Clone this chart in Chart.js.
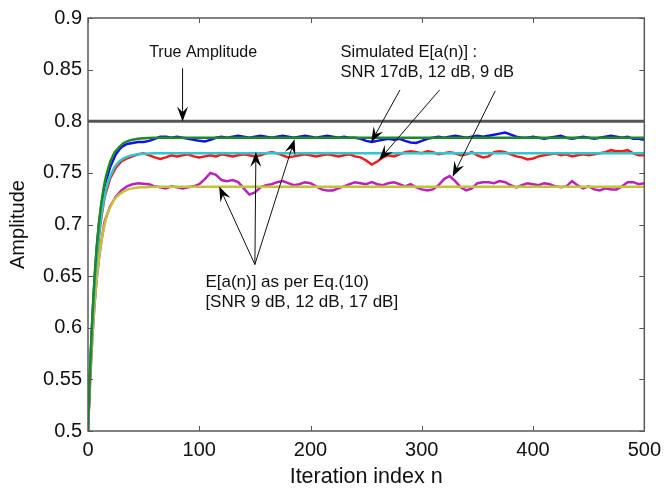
<!DOCTYPE html>
<html>
<head>
<meta charset="utf-8">
<script src="https://cdn.jsdelivr.net/npm/chart.js@4.4.1/dist/chart.umd.min.js"></script>
<style>
  html, body { margin: 0; padding: 0; background: #fff; }
  #wrap { width: 668px; height: 488px; }
</style>
</head>
<body>
<div id="wrap"><canvas id="ampChart" width="668" height="488"></canvas></div>
<script>
// iteration index for the theoretical curves
const theoryN = [0, 1, 2, 3, 4, 5, 6, 7, 8, 10, 12, 14, 16, 18, 20, 24, 28, 32, 36, 40, 45, 50, 60, 100, 200, 300, 400, 500];
// E[a(n)] as per Eq.(10)
const theory17 = [0.500, 0.533, 0.563, 0.589, 0.612, 0.632, 0.650, 0.666, 0.680, 0.703, 0.721, 0.735, 0.746, 0.754, 0.761, 0.770, 0.775, 0.779, 0.781, 0.782, 0.783, 0.7835, 0.784, 0.784, 0.784, 0.784, 0.784, 0.784];
const theory12 = [0.500, 0.531, 0.559, 0.584, 0.606, 0.625, 0.642, 0.657, 0.670, 0.692, 0.709, 0.722, 0.733, 0.741, 0.747, 0.756, 0.761, 0.764, 0.766, 0.767, 0.768, 0.7685, 0.769, 0.769, 0.769, 0.769, 0.769, 0.769];
const theory9 = [0.500, 0.528, 0.552, 0.574, 0.593, 0.610, 0.625, 0.638, 0.649, 0.669, 0.684, 0.695, 0.705, 0.712, 0.717, 0.725, 0.729, 0.732, 0.734, 0.735, 0.7358, 0.736, 0.7365, 0.7365, 0.7365, 0.7365, 0.7365, 0.7365];

// iteration index for the simulated curves
const simN = [0, 2, 4, 6, 8, 10, 12, 15,
  20, 25, 30, 35, 40, 45, 50, 55, 60, 65,
  70, 75, 80, 85, 90, 95, 100, 105, 110, 115,
  120, 125, 130, 135, 140, 145, 150, 155, 160, 165,
  170, 175, 180, 185, 190, 195, 200, 205, 210, 215,
  220, 225, 230, 235, 240, 245, 250, 255, 260, 265,
  270, 275, 280, 285, 290, 295, 300, 305, 310, 315,
  320, 325, 330, 335, 340, 345, 350, 355, 360, 365,
  370, 375, 380, 385, 390, 395, 400, 405, 410, 415,
  420, 425, 430, 435, 440, 445, 450, 455, 460, 465,
  470, 475, 480, 485, 490, 495, 500];
// Simulated E[a(n)]
const sim17 = [0.500, 0.562, 0.611, 0.649, 0.679, 0.702, 0.719, 0.738,
  0.756, 0.768, 0.775, 0.778, 0.779, 0.780, 0.780, 0.781, 0.783, 0.785,
  0.785, 0.784, 0.785, 0.784, 0.783, 0.782, 0.781, 0.7805, 0.782, 0.784,
  0.785, 0.784, 0.785, 0.786, 0.785, 0.784, 0.785, 0.786, 0.785, 0.784,
  0.785, 0.786, 0.785, 0.784, 0.785, 0.786, 0.785, 0.784, 0.785, 0.786,
  0.785, 0.784, 0.785, 0.784, 0.784, 0.783, 0.781, 0.780, 0.781, 0.782,
  0.783, 0.782, 0.783, 0.781, 0.7795, 0.779, 0.781, 0.783, 0.784, 0.785,
  0.784, 0.785, 0.786, 0.785, 0.784, 0.785, 0.786, 0.785, 0.786, 0.787,
  0.788, 0.789, 0.787, 0.785, 0.784, 0.784, 0.785, 0.784, 0.783, 0.784,
  0.785, 0.786, 0.784, 0.783, 0.784, 0.785, 0.784, 0.783, 0.784, 0.785,
  0.786, 0.785, 0.784, 0.785, 0.783, 0.783, 0.782];
const sim12 = [0.500, 0.558, 0.605, 0.641, 0.669, 0.690, 0.707, 0.727,
  0.745, 0.755, 0.761, 0.764, 0.766, 0.768, 0.769, 0.767, 0.765, 0.7635,
  0.765, 0.767, 0.766, 0.767, 0.768, 0.766, 0.765, 0.766, 0.767, 0.766,
  0.768, 0.767, 0.766, 0.767, 0.768, 0.767, 0.766, 0.767, 0.769, 0.770,
  0.769, 0.767, 0.765, 0.766, 0.767, 0.768, 0.767, 0.766, 0.767, 0.768,
  0.767, 0.766, 0.767, 0.768, 0.766, 0.765, 0.762, 0.758, 0.761, 0.765,
  0.767, 0.766, 0.768, 0.770, 0.771, 0.770, 0.769, 0.771, 0.770, 0.768,
  0.769, 0.770, 0.769, 0.767, 0.768, 0.770, 0.767, 0.765, 0.766, 0.770,
  0.771, 0.770, 0.768, 0.766, 0.765, 0.763, 0.764, 0.766, 0.767, 0.768,
  0.769, 0.767, 0.768, 0.766, 0.767, 0.768, 0.767, 0.768, 0.769, 0.770,
  0.772, 0.771, 0.771, 0.772, 0.769, 0.767, 0.767];
const sim9 = [0.500, 0.551, 0.592, 0.624, 0.649, 0.668, 0.684, 0.703,
  0.718, 0.727, 0.733, 0.737, 0.739, 0.740, 0.7395, 0.739, 0.737, 0.736,
  0.735, 0.737, 0.736, 0.735, 0.736, 0.737, 0.739, 0.744, 0.750, 0.748,
  0.743, 0.742, 0.743, 0.741, 0.735, 0.729, 0.731, 0.736, 0.738, 0.739,
  0.741, 0.742, 0.740, 0.738, 0.739, 0.741, 0.740, 0.737, 0.734, 0.733,
  0.733, 0.735, 0.737, 0.739, 0.741, 0.740, 0.739, 0.741, 0.739, 0.738,
  0.740, 0.741, 0.739, 0.737, 0.739, 0.736, 0.734, 0.733, 0.734, 0.738,
  0.744, 0.747, 0.742, 0.736, 0.733, 0.735, 0.740, 0.741, 0.741, 0.740,
  0.742, 0.741, 0.738, 0.736, 0.738, 0.740, 0.739, 0.738, 0.740, 0.739,
  0.737, 0.736, 0.737, 0.742, 0.738, 0.735, 0.737, 0.734, 0.733, 0.735,
  0.734, 0.734, 0.737, 0.741, 0.741, 0.739, 0.740];

// true amplitude
const trueN = [0, 500];
const trueAmp = [0.8, 0.8];

const xTicks = [0, 100, 200, 300, 400, 500];
const yTicks = [0.5, 0.55, 0.6, 0.65, 0.7, 0.75, 0.8, 0.85, 0.9];

function pts(xs, ys) {
  return xs.map((x, i) => ({ x: x, y: ys[i] }));
}

function lineSet(label, xs, ys, color, width) {
  return {
    label: label,
    data: pts(xs, ys),
    borderColor: color,
    borderWidth: width,
    pointRadius: 0,
    tension: 0,
    showLine: true,
    fill: false
  };
}

// annotations (in data units)
const notes = [
  { lines: ["True Amplitude"], x: 55, y: 0.8666, size: 16 },
  { lines: ["Simulated E[a(n)] :", "SNR 17dB, 12 dB, 9 dB"], x: 227, y: 0.8666, size: 16.5 },
  { lines: ["E[a(n)] as per Eq.(10)", "[SNR 9 dB, 12 dB, 17 dB]"], x: 105.5, y: 0.6442, size: 17 }
];
const arrows = [
  [85, 0.8513, 85, 0.7998],
  [280.4, 0.8303, 254.5, 0.7797],
  [316, 0.8303, 261.6, 0.7625],
  [366, 0.8294, 327.7, 0.7463],
  [150, 0.6613, 117.9, 0.7368],
  [150, 0.6613, 150.9, 0.7702],
  [150, 0.6613, 185.7, 0.7826]
];

const framePlugin = {
  id: "frame",
  afterDatasetsDraw(chart) {
    const { ctx, chartArea: a, scales } = chart;
    ctx.save();
    // inward ticks
    ctx.strokeStyle = "#555";
    ctx.lineWidth = 1;
    xTicks.forEach(v => {
      const px = Math.round(scales.x.getPixelForValue(v)) + 0.5;
      ctx.beginPath();
      ctx.moveTo(px, a.bottom); ctx.lineTo(px, a.bottom - 5);
      ctx.moveTo(px, a.top); ctx.lineTo(px, a.top + 5);
      ctx.stroke();
    });
    yTicks.forEach(v => {
      const py = Math.round(scales.y.getPixelForValue(v)) + 0.5;
      ctx.beginPath();
      ctx.moveTo(a.left, py); ctx.lineTo(a.left + 5, py);
      ctx.moveTo(a.right, py); ctx.lineTo(a.right - 5, py);
      ctx.stroke();
    });
    // box
    ctx.strokeStyle = "#5a5a5a";
    ctx.lineWidth = 1.5;
    ctx.strokeRect(a.left, a.top, a.right - a.left, a.bottom - a.top);

    // annotation text
    ctx.fillStyle = "#111";
    ctx.textBaseline = "middle";
    ctx.textAlign = "left";
    notes.forEach(n => {
      ctx.font = n.size + "px 'Liberation Sans', Arial, sans-serif";
      const x0 = scales.x.getPixelForValue(n.x);
      const y0 = scales.y.getPixelForValue(n.y);
      n.lines.forEach((t, i) => ctx.fillText(t, x0, y0 + i * 20));
    });

    // arrows
    arrows.forEach(([x1, y1, x2, y2]) => {
      const ax = scales.x.getPixelForValue(x1), ay = scales.y.getPixelForValue(y1);
      const bx = scales.x.getPixelForValue(x2), by = scales.y.getPixelForValue(y2);
      const ang = Math.atan2(by - ay, bx - ax);
      const len = 15, half = 5.5;
      ctx.strokeStyle = "#111";
      ctx.lineWidth = 1;
      ctx.beginPath();
      ctx.moveTo(ax, ay);
      ctx.lineTo(bx - Math.cos(ang) * len * 0.6, by - Math.sin(ang) * len * 0.6);
      ctx.stroke();
      ctx.save();
      ctx.translate(bx, by);
      ctx.rotate(ang);
      ctx.fillStyle = "#000";
      ctx.beginPath();
      ctx.moveTo(0, 0);
      ctx.lineTo(-len, -half);
      ctx.lineTo(-len * 0.62, 0);
      ctx.lineTo(-len, half);
      ctx.closePath();
      ctx.fill();
      ctx.restore();
    });
    ctx.restore();
  }
};

const ctx = document.getElementById("ampChart").getContext("2d");

// first dataset is drawn on top
new Chart(ctx, {
  type: "scatter",
  data: {
    datasets: [
      lineSet("True Amplitude", trueN, trueAmp, "#555555", 3),
      lineSet("Eq.(10) 17 dB", theoryN, theory17, "#1f8a24", 2.5),
      lineSet("Eq.(10) 12 dB", theoryN, theory12, "#2ec8cc", 2.5),
      lineSet("Eq.(10) 9 dB", theoryN, theory9, "#c4c236", 2.5),
      lineSet("Sim 17 dB", simN, sim17, "#1010ee", 2.5),
      lineSet("Sim 12 dB", simN, sim12, "#ee1c1c", 2.5),
      lineSet("Sim 9 dB", simN, sim9, "#bb22bb", 2.5)
    ]
  },
  options: {
    responsive: false,
    animation: false,
    devicePixelRatio: 1,
    layout: { padding: { left: 0, top: 12, right: 20, bottom: 0 } },
    plugins: {
      legend: { display: false },
      tooltip: { enabled: false }
    },
    scales: {
      x: {
        type: "linear",
        min: 0,
        max: 500,
        afterFit: s => { s.height = 57; },
        afterBuildTicks: s => { s.ticks = xTicks.map(v => ({ value: v })); },
        grid: { display: false, drawTicks: false },
        border: { display: false },
        ticks: {
          font: { size: 20, family: "'Liberation Sans', Arial, sans-serif" },
          color: "#111",
          padding: 7,
          maxRotation: 0
        },
        title: {
          display: true,
          text: "Iteration index n",
          font: { size: 21.5, lineHeight: 1, family: "'Liberation Sans', Arial, sans-serif" },
          color: "#111",
          padding: { top: 0, bottom: 0 }
        }
      },
      y: {
        min: 0.5,
        max: 0.9,
        afterFit: s => { s.width = 88; },
        afterBuildTicks: s => { s.ticks = yTicks.map(v => ({ value: v })); },
        grid: { display: false, drawTicks: false },
        border: { display: false },
        ticks: {
          font: { size: 20, family: "'Liberation Sans', Arial, sans-serif" },
          color: "#111",
          padding: 6,
          callback: v => String(v)
        },
        title: {
          display: true,
          text: "Amplitude",
          font: { size: 20, family: "'Liberation Sans', Arial, sans-serif" },
          color: "#111",
          padding: { top: 6, bottom: 0 }
        }
      }
    }
  },
  plugins: [framePlugin]
});
</script>
</body>
</html>
